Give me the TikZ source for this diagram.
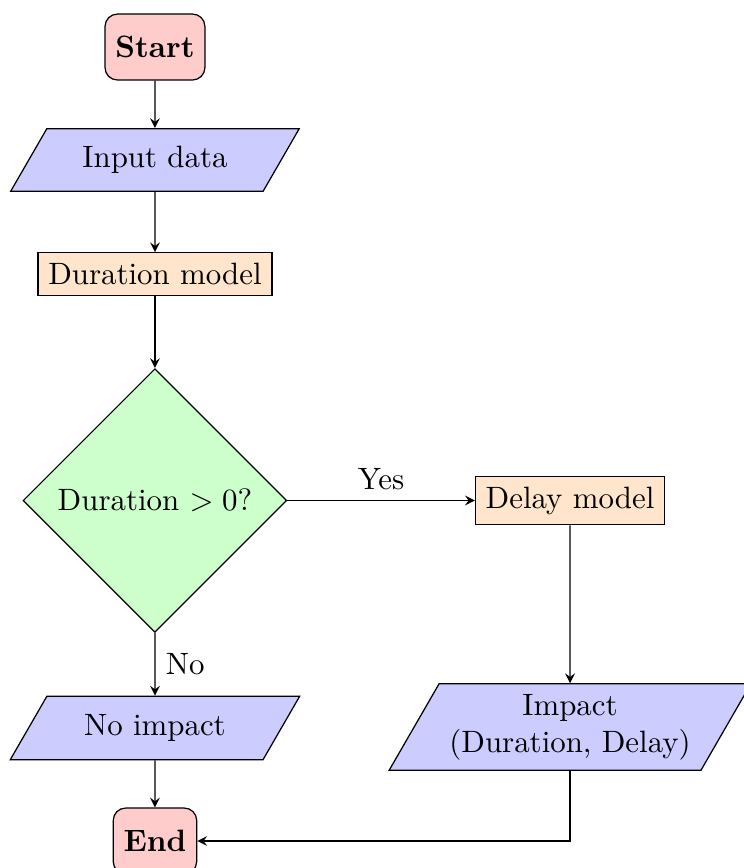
\documentclass[tikz,border=0pt]{standalone}
\usepackage{tikz}
\usetikzlibrary{shapes.geometric, arrows.meta, positioning}

\tikzset{
    startstop/.style={rectangle, rounded corners, draw, fill=red!20, minimum height=0.75cm, font=\bfseries},
    io/.style={trapezium, trapezium left angle=60, trapezium right angle=120, draw, fill=blue!20, minimum width=3.3cm, align=center},
    process/.style={rectangle, draw, fill=orange!20},
    decision/.style={diamond, draw, fill=green!20, minimum size=3cm, inner sep=0pt},
    flow/.style={->, >=stealth}
}

\begin{document}
\begin{tikzpicture}

    \useasboundingbox (0,0) rectangle (8.464,-9.875);

    % Main column on the left
    \node[startstop] (start) at (1.763,-0.535) {Start};
    \node[io] (input) at (1.763,-1.820) {Input data};
    \node[process] (durmodel) at (1.763,-3.117) {Duration model};
    \node[decision] (check) at (1.763,-5.694) {Duration $> 0$?};
    \node[io] (noimpact) at (1.763,-8.282) {No impact};
    \node[startstop] (stop) at (1.763,-9.568) {End};

    % Branch on the right
    \node[process] (delaymodel) at (6.485,-5.694) {Delay model};
    \node[io] (impact) at (6.485,-8.271) {Impact\\(Duration, Delay)};

    % Connectors
    \draw[flow] (start) -- (input);
    \draw[flow] (input) -- (durmodel);
    \draw[flow] (durmodel) -- (check);
    \draw[flow] (check) -- node[above] {Yes} (delaymodel);
    \draw[flow] (check) -- node[right] {No} (noimpact);
    \draw[flow] (noimpact) -- (stop);
    \draw[flow] (delaymodel) -- (impact);
    \draw[flow] (impact) |- (stop);

\end{tikzpicture}
\end{document}
